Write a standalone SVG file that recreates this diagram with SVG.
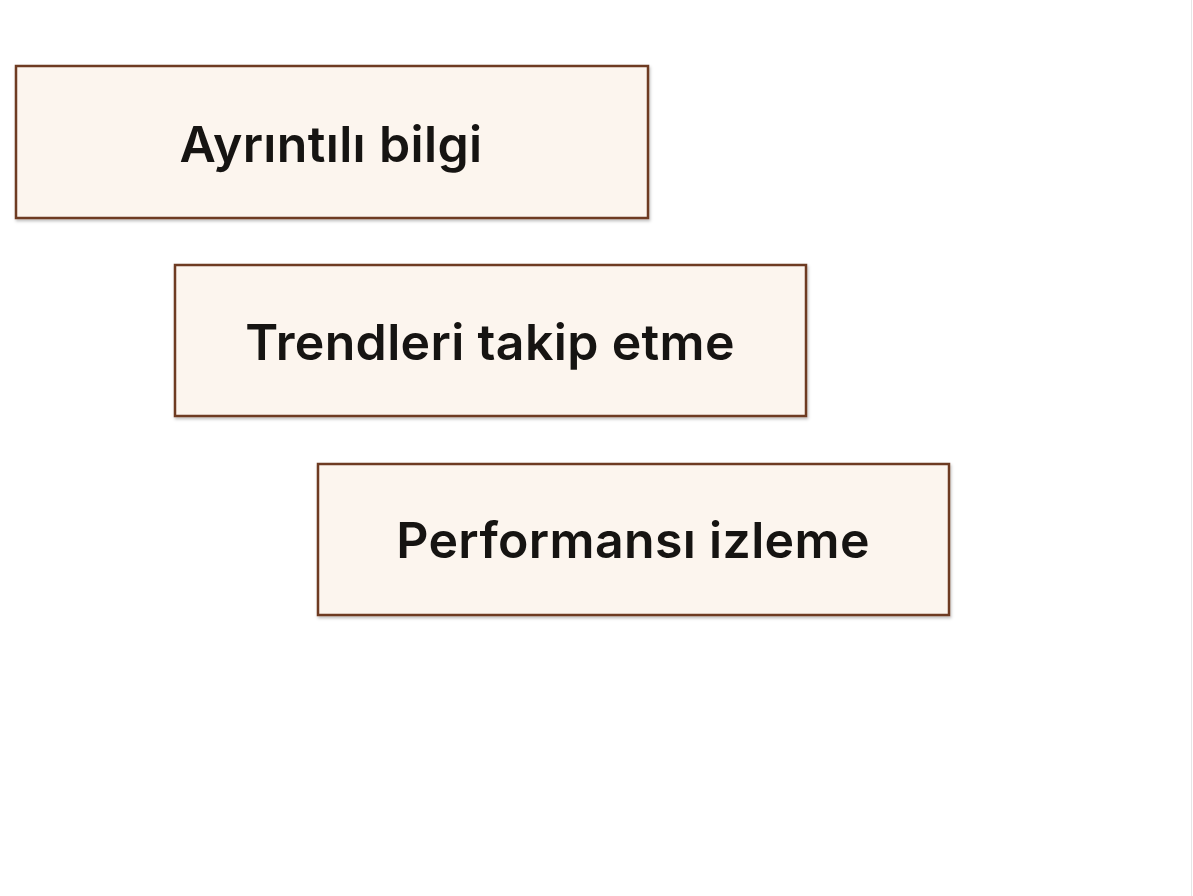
<svg xmlns="http://www.w3.org/2000/svg" width="1193" height="896" viewBox="0 0 1193 896">
<style>
.box{fill:#fcf5ee;stroke:#6e3b20;stroke-width:2.5}
.lbl{font-family:Inter,"Liberation Sans",sans-serif;font-weight:600;font-size:50px;letter-spacing:0.35px;fill:#161412;text-anchor:middle}
</style>
<defs>
<filter id="sh" x="-5%" y="-10%" width="110%" height="130%">
<feDropShadow dx="1" dy="2" stdDeviation="1.5" flood-color="#000" flood-opacity="0.25"/>
</filter>
</defs>
<rect width="1193" height="896" fill="#ffffff"/>
<line x1="1191.5" y1="0" x2="1191.5" y2="896" stroke="#e6e6e6" stroke-width="1"/>
<g id="node1">
<rect class="box" x="16" y="66" width="632" height="152" filter="url(#sh)"/>
<text class="lbl" x="331" y="162">Ayrıntılı bilgi</text>
</g>
<g id="node2">
<rect class="box" x="175" y="265" width="631" height="151" filter="url(#sh)"/>
<text class="lbl" x="490" y="360">Trendleri takip etme</text>
</g>
<g id="node3">
<rect class="box" x="318" y="464" width="631" height="151" filter="url(#sh)"/>
<text class="lbl" x="633" y="558">Performansı izleme</text>
</g>
<g id="connectors"></g>
</svg>
